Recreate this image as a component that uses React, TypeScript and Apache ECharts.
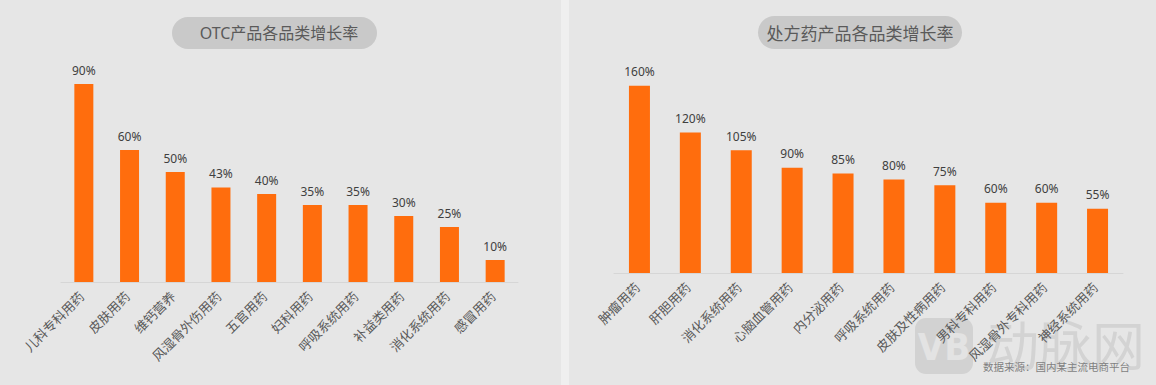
import React, { useEffect, useRef } from "react";
import * as echarts from "echarts";

const otcCategories = ["儿科专科用药", "皮肤用药", "维钙营养", "风湿骨外伤用药", "五官用药", "妇科用药", "呼吸系统用药", "补益类用药", "消化系统用药", "感冒用药"];
const otcValues = [90, 60, 50, 43, 40, 35, 35, 30, 25, 10];
const rxCategories = ["肿瘤用药", "肝胆用药", "消化系统用药", "心脑血管用药", "内分泌用药", "呼吸系统用药", "皮肤及性病用药", "男科专科用药", "风湿骨外专科用药", "神经系统用药"];
const rxValues = [160, 120, 105, 90, 85, 80, 75, 60, 60, 55];
const titles = ["OTC产品各品类增长率", "处方药产品各品类增长率"];
const sourceText = "数据来源：国内某主流电商平台";
const watermarkText = "动脉网";

const FONT = "'Noto Sans', 'Noto Sans CJK SC', sans-serif";
const ORANGE = "#ff6d0d";

export default function App() {
  const ref = useRef<HTMLDivElement>(null);
  useEffect(() => {
    const chart = echarts.init(ref.current!, null, { renderer: "svg" });
    const xAxisCommon = (data: string[], gridIndex: number) => ({
      type: "category",
      gridIndex,
      data,
      axisLine: { lineStyle: { color: "#d6d6d6", width: 1 } },
      axisTick: { show: false },
      axisLabel: {
        rotate: 45,
        interval: 0,
        margin: 10,
        padding: [0, 3, 0, 0],
        fontSize: 13,
        color: "#595959",
        fontFamily: FONT,
      },
    });
    const seriesCommon = (data: number[], idx: number, barWidth: number) => ({
      type: "bar",
      xAxisIndex: idx,
      yAxisIndex: idx,
      data,
      barWidth,
      itemStyle: { color: ORANGE },
      label: {
        show: true,
        position: "top",
        distance: 8,
        formatter: "{c}%",
        fontSize: 12,
        color: "#404040",
        fontFamily: FONT,
      },
      z: 5,
    });
    chart.setOption({
      animation: false,
      backgroundColor: "#e6e6e6",
      grid: [
        { left: 61, top: 62, width: 457, height: 220 },
        { left: 614, top: 39, width: 509, height: 234 },
      ],
      xAxis: [xAxisCommon(otcCategories, 0), xAxisCommon(rxCategories, 1)],
      yAxis: [
        { type: "value", gridIndex: 0, min: 0, max: 100, show: false, splitLine: { show: false } },
        { type: "value", gridIndex: 1, min: 0, max: 200, show: false, splitLine: { show: false } },
      ],
      series: [seriesCommon(otcValues, 0, 19), seriesCommon(rxValues, 1, 21)],
      graphic: [
        { type: "rect", z: -10, shape: { x: 561, y: 0, width: 8, height: 385 }, style: { fill: "#efefef" } },
        { type: "rect", z: -5, shape: { x: 172, y: 17, width: 205, height: 32, r: 16 }, style: { fill: "#c9c9c9" } },
        { type: "text", z: -4, x: 279, y: 33, style: { text: titles[0], fontSize: 16, fill: "#5a5a5a", fontFamily: FONT, align: "center", verticalAlign: "middle" } },
        { type: "rect", z: -5, shape: { x: 758, y: 16, width: 204, height: 33, r: 16.5 }, style: { fill: "#c9c9c9" } },
        { type: "text", z: -4, x: 860, y: 33, style: { text: titles[1], fontSize: 17, fill: "#5a5a5a", fontFamily: FONT, align: "center", verticalAlign: "middle" } },
        { type: "rect", z: -5, shape: { x: 915, y: 318, width: 58, height: 56, r: 11 }, style: { fill: "#d2d2d2" } },
        { type: "text", z: -4, x: 944, y: 347, style: { text: "VB", fontSize: 38, fontWeight: "bold", fill: "#e3e3e3", fontFamily: "'DejaVu Sans Condensed', 'DejaVu Sans', sans-serif", align: "center", verticalAlign: "middle" } },
        { type: "text", z: -5, x: 986, y: 343, style: { text: watermarkText, fontSize: 53, fill: "#d3d3d3", fontFamily: "'Noto Sans CJK SC', sans-serif", fontWeight: "normal", align: "left", verticalAlign: "middle" } },
        { type: "text", z: 6, x: 1130, y: 367, style: { text: sourceText, fontSize: 10.5, fill: "#7f7f7f", fontFamily: FONT, align: "right", verticalAlign: "middle" } },
      ],
    });
    return () => chart.dispose();
  }, []);
  return <div ref={ref} style={{ position: "fixed", left: 0, top: 0, width: 1156, height: 385 }} />;
}
